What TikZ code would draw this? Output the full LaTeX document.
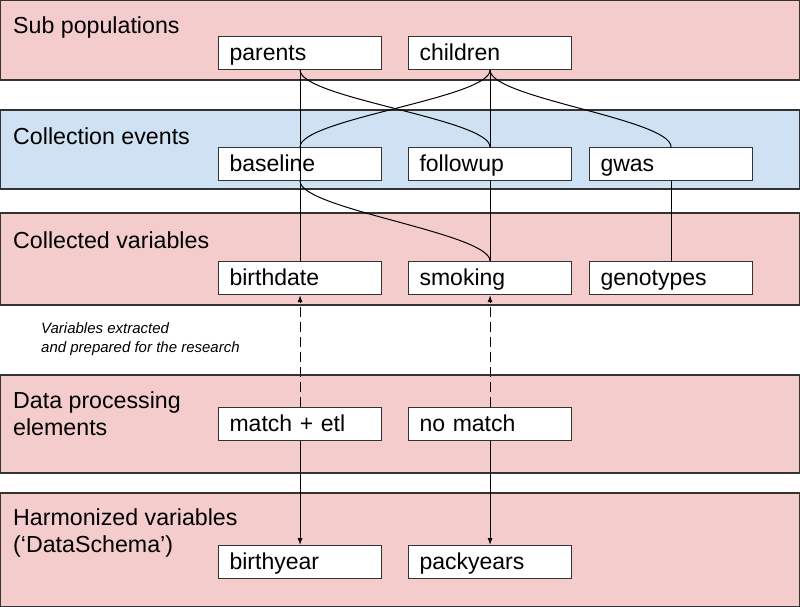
\documentclass[tikz,border=0pt]{standalone}
\usepackage{fontspec}
\setmainfont{Liberation Sans}
\usetikzlibrary{arrows.meta}
\definecolor{bandpink}{HTML}{F4CCCC}
\definecolor{bandblue}{HTML}{CFE2F3}
\definecolor{edge}{HTML}{333333}
\begin{document}
\begin{tikzpicture}[x=1pt,y=-1pt,
  band/.style={draw=edge, line width=1.1pt},
  box/.style={draw=edge, fill=white, line width=1.1pt, anchor=north west,
    minimum width=163pt, minimum height=33pt, text width=141pt,
    inner xsep=11pt, inner ysep=0pt, align=left, text height=19pt,
    text depth=4pt, font=\fontsize{23}{26}\selectfont},
  title/.style={anchor=base west, inner sep=0pt, font=\fontsize{23.2}{26}\selectfont},
  note/.style={anchor=base west, inner sep=0pt, font=\fontsize{15}{19}\selectfont\itshape},
  conn/.style={line width=1pt, black},
  tip/.style={-{Latex[length=7pt,width=5pt]}},
  dashline/.style={dash pattern=on 10pt off 5pt}]
\useasboundingbox (0,0) rectangle (800,607);
% bands
\draw[band, fill=bandpink] (0.6,0.6) rectangle (799.4,80);
\draw[band, fill=bandblue] (0.6,110) rectangle (799.4,189);
\draw[band, fill=bandpink] (0.6,213) rectangle (799.4,305);
\draw[band, fill=bandpink] (0.6,375) rectangle (799.4,473);
\draw[band, fill=bandpink] (0.6,493) rectangle (799.4,606.4);
% titles
\node[title] (t1) at (13,34) {Sub populations};
\node[title] (t2) at (13,144) {Collection events};
\node[title] (t3) at (13,248) {Collected variables};
\node[title] (t4a) at (13,408) {Data processing};
\node[title] (t4b) at (13,435) {elements};
\node[title] (t5a) at (13,525) {Harmonized variables};
\node[title] (t5b) at (13,552) {(‘DataSchema’)};
\node[note] (n1) at (41,333) {Variables extracted};
\node[note] (n2) at (41,352) {and prepared for the research};
% boxes
\node[box] (parents) at (218,36) {parents};
\node[box] (children) at (408,36) {children};
\node[box] (baseline) at (218,147) {baseline};
\node[box] (followup) at (408,147) {followup};
\node[box] (gwas) at (589,147) {gwas};
\node[box] (birthdate) at (218,261) {birthdate};
\node[box] (smoking) at (408,261) {smoking};
\node[box] (genotypes) at (589,261) {genotypes};
\node[box] (match) at (218,407) {match + etl};
\node[box] (nomatch) at (408,407) {no match};
\node[box] (birthyear) at (218,545) {birthyear};
\node[box] (packyears) at (408,545) {packyears};
% connectors
\draw[conn] (parents.south) -- (birthdate.north);
\draw[conn] (parents.south) .. controls +(0,28) and +(0,-28) .. (followup.north);
\draw[conn] (children.south) .. controls +(0,28) and +(0,-28) .. (baseline.north);
\draw[conn] (children.south) -- (followup.north);
\draw[conn] (children.south) .. controls +(0,28) and +(0,-28) .. (gwas.north);
\draw[conn] (baseline.south) .. controls +(0,28) and +(0,-28) .. (smoking.north);
\draw[conn] (followup.south) -- (smoking.north);
\draw[conn] (gwas.south) -- (genotypes.north);
\draw[conn, dashline, tip] (match.north) -- (birthdate.south);
\draw[conn, dashline, tip] (nomatch.north) -- (smoking.south);
\draw[conn, tip] (match.south) -- (birthyear.north);
\draw[conn, tip] (nomatch.south) -- (packyears.north);
\end{tikzpicture}
\end{document}
